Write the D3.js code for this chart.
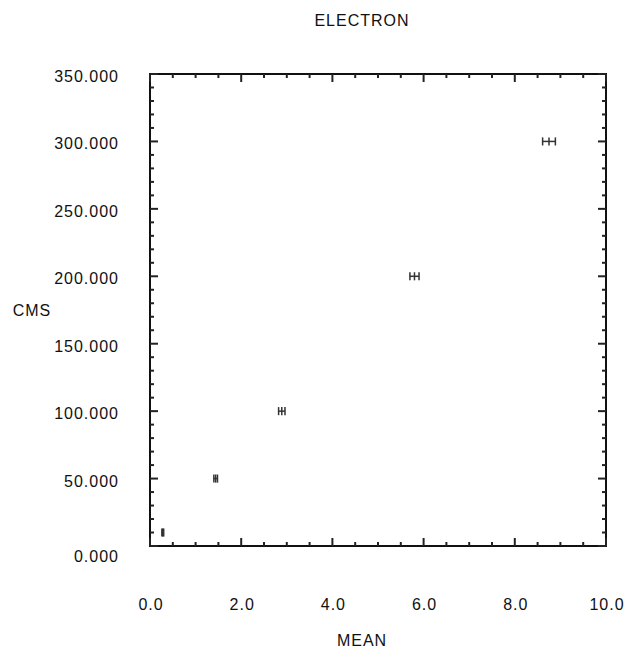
<!DOCTYPE html>
<html>
<head>
<meta charset="utf-8">
<script src="https://cdn.jsdelivr.net/npm/d3@7"></script>
<style>
  body { margin: 0; background: #fff; }
  text { font-family: 'Liberation Sans', Arial, sans-serif; fill: #111; letter-spacing: 1px; }
</style>
</head>
<body>
<div class="content"></div>
<script>
var width = 627
var height = 651

// data
var meanValues = [0.28, 1.44, 2.89, 5.80, 8.75]
var meanErrors = [0.02, 0.04, 0.07, 0.10, 0.14]
var cmsValues = [10, 50, 100, 200, 300]
var cmsErrors = [3, 3, 3, 3, 3]

var xTicks = [0, 2, 4, 6, 8, 10]
var yTicks = [0, 50, 100, 150, 200, 250, 300, 350]

var points = meanValues.map(function(m, i) {
    return { x: m, xe: meanErrors[i], y: cmsValues[i], ye: cmsErrors[i] }
})

var margin = { left: 150, right: 21, top: 74, bottom: 105 }

var x = d3.scaleLinear()
    .domain([0, 10])
    .range([margin.left, width - margin.right])

var y = d3.scaleLinear()
    .domain([0, 350])
    .range([height - margin.bottom, margin.top])

var svg = d3.select('.content').append('svg')
    .attr('width', width)
    .attr('height', height)

var x0 = x.range()[0], x1 = x.range()[1]
var y0 = y.range()[0], y1 = y.range()[1]

// frame
svg.append('rect')
    .attr('x', x0)
    .attr('y', y1)
    .attr('width', x1 - x0)
    .attr('height', y0 - y1)
    .attr('fill', 'none')
    .attr('stroke', '#111')
    .attr('stroke-width', 2)

var ticks = svg.append('g')
    .attr('stroke', '#222')
    .attr('stroke-width', 2)

// x ticks top and bottom, minor every 0.5
d3.range(0, 10.01, 0.5).forEach(function(v) {
    var len = (v % 2 === 0) ? 8 : 4
    ticks.append('line')
        .attr('x1', x(v)).attr('x2', x(v))
        .attr('y1', y0).attr('y2', y0 - len)
    ticks.append('line')
        .attr('x1', x(v)).attr('x2', x(v))
        .attr('y1', y1).attr('y2', y1 + len)
})

// y ticks left and right, minor every 10
d3.range(0, 351, 10).forEach(function(v) {
    var len = (v % 50 === 0) ? 8 : 4
    ticks.append('line')
        .attr('y1', y(v)).attr('y2', y(v))
        .attr('x1', x0).attr('x2', x0 + len)
    ticks.append('line')
        .attr('y1', y(v)).attr('y2', y(v))
        .attr('x1', x1).attr('x2', x1 - len)
})

svg.append('g')
    .selectAll('text')
    .data(xTicks)
    .enter().append('text')
    .attr('x', function(d) { return x(d) + 1 })
    .attr('y', 610)
    .attr('text-anchor', 'middle')
    .style('font-size', '16px')
    .text(function(d) { return d3.format('.1f')(d) })

svg.append('g')
    .selectAll('text')
    .data(yTicks)
    .enter().append('text')
    .attr('x', 119)
    .attr('y', function(d) { return y(d) + (d === 0 ? 16 : 8) })
    .attr('text-anchor', 'end')
    .style('font-size', '16px')
    .text(function(d) { return d3.format('.3f')(d) })

svg.append('text')
    .attr('x', 362)
    .attr('y', 26)
    .attr('text-anchor', 'middle')
    .style('font-size', '16px')
    .text('ELECTRON')

svg.append('text')
    .attr('x', 362)
    .attr('y', 646)
    .attr('text-anchor', 'middle')
    .style('font-size', '16px')
    .text('MEAN')

svg.append('text')
    .attr('x', 32)
    .attr('y', 316)
    .attr('text-anchor', 'middle')
    .style('font-size', '16px')
    .text('CMS')

// error bars
var bars = svg.append('g')
    .attr('class', 'points')
    .attr('stroke', '#333')
    .attr('stroke-width', 1.5)
    .selectAll('g')
    .data(points)
    .enter().append('g')

bars.append('line')
    .attr('x1', function(d) { return x(d.x - d.xe) })
    .attr('x2', function(d) { return x(d.x + d.xe) })
    .attr('y1', function(d) { return y(d.y) })
    .attr('y2', function(d) { return y(d.y) })

bars.append('line')
    .attr('x1', function(d) { return x(d.x) })
    .attr('x2', function(d) { return x(d.x) })
    .attr('y1', function(d) { return y(d.y - d.ye) })
    .attr('y2', function(d) { return y(d.y + d.ye) })

bars.append('line')
    .attr('x1', function(d) { return x(d.x - d.xe) })
    .attr('x2', function(d) { return x(d.x - d.xe) })
    .attr('y1', function(d) { return y(d.y - d.ye) })
    .attr('y2', function(d) { return y(d.y + d.ye) })

bars.append('line')
    .attr('x1', function(d) { return x(d.x + d.xe) })
    .attr('x2', function(d) { return x(d.x + d.xe) })
    .attr('y1', function(d) { return y(d.y - d.ye) })
    .attr('y2', function(d) { return y(d.y + d.ye) })
</script>
</body>
</html>
